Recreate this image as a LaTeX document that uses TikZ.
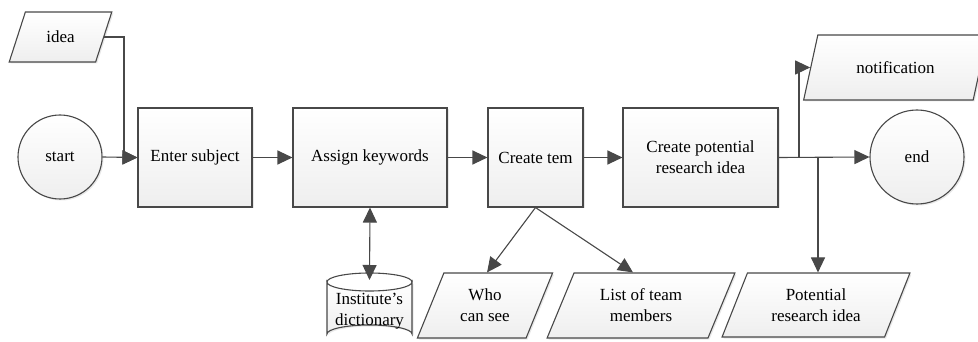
\documentclass[tikz,border=0pt]{standalone}
\usepackage{fontspec}
\setmainfont{Liberation Serif}
\usetikzlibrary{shapes.geometric,arrows.meta,shadows,calc}
\definecolor{linec}{HTML}{484848}
\begin{document}
\begin{tikzpicture}[x=1pt,y=-1pt,
  base/.style={draw=linec, line width=1.1pt, top color=white, bottom color=gray!13,
    font=\fontsize{17}{21}\selectfont, align=center, inner sep=2pt,
    drop shadow={shadow xshift=1.5pt,shadow yshift=-1.5pt,fill=black!18}},
  proc/.style={base, rectangle, minimum height=99pt},
  io/.style={base, trapezium, trapezium left angle=65, trapezium right angle=115,
    trapezium stretches=true},
  term/.style={base, circle, inner sep=0pt},
  tip/.style={Triangle[length=15pt,width=14pt]},
  arr/.style={draw=linec, line width=1.1pt, -{Triangle[length=15pt,width=14pt]}},
  dbl/.style={draw=linec, line width=1.1pt, {Triangle[length=15pt,width=14pt]}-{Triangle[length=15pt,width=14pt]}},
  ln/.style={draw=linec, line width=1.1pt}
]
\useasboundingbox (0,0) rectangle (978,342);

% nodes
\node[term, minimum size=84pt] (start) at (60,157) {start};
\node[io, minimum width=103pt, minimum height=50pt] (idea) at (60.5,37) {idea};
\node[proc, minimum width=114pt] (enter) at (195,157.5) {Enter subject};
\node[proc, minimum width=154pt] (assign) at (370,157.5) {Assign keywords};
\node[proc, minimum width=95pt] (tem) at (535.5,157.5) {Create tem};
\node[proc, minimum width=155pt] (cpri) at (700.5,157.5) {Create potential\\research idea};
\node[term, minimum size=94pt] (end) at (917,157) {end};
\node[io, minimum width=185pt, minimum height=65pt] (notif) at (895.5,67.5) {notification};
\node[io, minimum width=136pt, minimum height=65pt] (who) at (485,305.5) {Who\\can see};
\node[io, minimum width=188pt, minimum height=65pt] (list) at (641,305.5) {List of team\\members};
\node[io, minimum width=188pt, minimum height=64pt] (pri) at (816,305) {Potential\\research idea};

% cylinder (database)
\path[draw=linec, line width=1.1pt, top color=white, bottom color=gray!13,
      drop shadow={shadow xshift=1.5pt,shadow yshift=-1.5pt,fill=black!18}]
  (327,282) -- (327,334) arc[start angle=180, end angle=360, x radius=42.5pt, y radius=-9pt]
  -- (412,282) arc[start angle=0, end angle=180, x radius=42.5pt, y radius=-9pt] -- cycle;
\draw[linec, line width=1.1pt] (327,282) arc[start angle=180, end angle=360, x radius=42.5pt, y radius=-9pt];
\node[font=\fontsize{17}{21}\selectfont, align=center, inner sep=0pt] (dict) at (369.5,311) {Institute's\\dictionary};
\coordinate (dtop) at (369.5,280);

% junctions
\coordinate (j1) at (124,157.5);
\coordinate (b1) at (799,157.5);
\coordinate (b2) at (818,157.5);

% connectors
\draw[ln] (idea.right side) -| (j1);
\draw[arr] (j1) -- (enter.west);
\draw[arr] (start.east) -- (enter.west);
\draw[arr] (enter.east) -- (assign.west);
\draw[arr] (assign.east) -- (tem.west);
\draw[arr] (tem.east) -- (cpri.west);
\draw[arr] (cpri.east) -- (end.west);
\draw[arr] (b1) |- (notif.left side);
\draw[arr] (b2) -- (b2 |- pri.north);
\draw[dbl] (assign.south) -- (dtop);
\draw[arr] (tem.south) -- ($(who.north)+(2,0)$);
\draw[arr] (tem.south) -- ($(list.north)+(-8,0)$);
\end{tikzpicture}
\end{document}
